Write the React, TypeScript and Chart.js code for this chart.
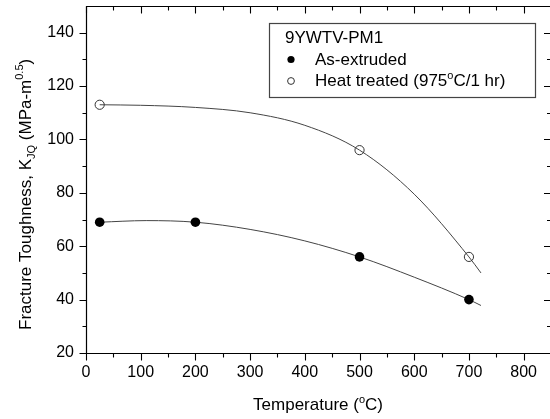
import React, { useEffect, useRef } from "react";
import { Chart, registerables } from "chart.js";
Chart.register(...registerables);

const legendTitle = "9YWTV-PM1";
const seriesNames = ["As-extruded", "Heat treated"];
const extrudedTemps = [25, 200, 500, 700];
const extrudedK = [69, 69, 56, 40];
const heatTemps = [25, 500, 700];
const heatK = [113, 96, 56];
const extrudedFitTemps = [25, 110, 200, 300, 400, 500, 600, 700, 722];
const extrudedFitK = [69, 69.6, 69, 66.3, 62, 56, 48.4, 40, 37.8];
const heatFitTemps = [25, 100, 200, 300, 400, 500, 600, 700, 722];
const heatFitK = [113, 112.8, 112.0, 110.0, 105.3, 96, 79.5, 56, 50];
const xTicks = [0, 100, 200, 300, 400, 500, 600, 700, 800];
const yTicks = [20, 40, 60, 80, 100, 120, 140];
const xRange = [0, 850];
const yRange = [20, 150];

const FONT = "'Liberation Sans', Arial, sans-serif";

type Seg = { t: string; s: number; dy: number };

function segWidth(ctx: CanvasRenderingContext2D, segs: Seg[]) {
  let w = 0;
  for (const g of segs) {
    ctx.font = `${g.s}px ${FONT}`;
    w += ctx.measureText(g.t).width;
  }
  return w;
}
function drawSegs(ctx: CanvasRenderingContext2D, segs: Seg[], x: number, y: number) {
  let cx = x;
  ctx.textAlign = "left";
  ctx.textBaseline = "alphabetic";
  for (const g of segs) {
    ctx.font = `${g.s}px ${FONT}`;
    ctx.fillText(g.t, cx, y + g.dy);
    cx += ctx.measureText(g.t).width;
  }
}

const decorPlugin = {
  id: "decor",
  afterDraw(chart: any) {
    const { ctx, chartArea: a, scales } = chart;
    const xs = scales.x;
    const ys = scales.y;
    ctx.save();
    ctx.strokeStyle = "#000";
    ctx.lineWidth = 1.2;
    const L = Math.round(a.left) + 0.5;
    const B = Math.round(a.bottom) + 0.5;
    const T = Math.round(a.top) + 0.5;
    const R = a.right;
    ctx.beginPath();
    ctx.moveTo(L, T);
    ctx.lineTo(R, T);
    ctx.lineTo(R, B);
    ctx.lineTo(L, B);
    ctx.closePath();
    ctx.stroke();
    const major = 7;
    const minor = 4;
    ctx.lineWidth = 1.1;
    ctx.beginPath();
    xTicks.forEach((v) => {
      const px = Math.round(xs.getPixelForValue(v)) + 0.5;
      ctx.moveTo(px, B); ctx.lineTo(px, B + major);
      ctx.moveTo(px, T); ctx.lineTo(px, T + major);
      const mv = v + (xTicks[1] - xTicks[0]) / 2;
      if (mv < xRange[1]) {
        const mp = Math.round(xs.getPixelForValue(mv)) + 0.5;
        ctx.moveTo(mp, B); ctx.lineTo(mp, B + minor);
        ctx.moveTo(mp, T); ctx.lineTo(mp, T + minor);
      }
    });
    yTicks.forEach((v) => {
      const py = Math.round(ys.getPixelForValue(v)) + 0.5;
      ctx.moveTo(L, py); ctx.lineTo(L - major, py);
      ctx.moveTo(R, py); ctx.lineTo(R - major, py);
      const mv = v + (yTicks[1] - yTicks[0]) / 2;
      if (mv < yRange[1]) {
        const mp = Math.round(ys.getPixelForValue(mv)) + 0.5;
        ctx.moveTo(L, mp); ctx.lineTo(L - minor, mp);
        ctx.moveTo(R, mp); ctx.lineTo(R - minor, mp);
      }
    });
    ctx.stroke();

    ctx.fillStyle = "#000";
    const xt: Seg[] = [
      { t: "Temperature (", s: 17, dy: 0 },
      { t: "o", s: 11, dy: -7 },
      { t: "C)", s: 17, dy: 0 },
    ];
    const xw = segWidth(ctx, xt);
    drawSegs(ctx, xt, 318 - xw / 2, 410);

    const yt: Seg[] = [
      { t: "Fracture Toughness, K", s: 17, dy: 0 },
      { t: "JQ", s: 11, dy: 4 },
      { t: " (MPa-m", s: 17, dy: 0 },
      { t: "0.5", s: 11, dy: -8 },
      { t: ")", s: 17, dy: 0 },
    ];
    ctx.save();
    ctx.translate(31, 330);
    ctx.rotate(-Math.PI / 2);
    drawSegs(ctx, yt, 0, 0);
    ctx.restore();

    ctx.fillStyle = "#fff";
    ctx.fillRect(269.5, 23.5, 266, 74);
    ctx.strokeStyle = "#444";
    ctx.lineWidth = 1.2;
    ctx.strokeRect(269.5, 23.5, 266, 74);
    ctx.fillStyle = "#000";
    drawSegs(ctx, [{ t: legendTitle, s: 17, dy: 0 }], 285, 43);
    ctx.beginPath();
    ctx.arc(291, 59.5, 3.6, 0, Math.PI * 2);
    ctx.fill();
    drawSegs(ctx, [{ t: seriesNames[0], s: 17, dy: 0 }], 315, 65);
    ctx.beginPath();
    ctx.strokeStyle = "#333";
    ctx.lineWidth = 1;
    ctx.arc(291, 81, 3.4, 0, Math.PI * 2);
    ctx.stroke();
    drawSegs(
      ctx,
      [
        { t: seriesNames[1] + " (975", s: 17, dy: 0 },
        { t: "o", s: 11, dy: -7 },
        { t: "C/1 hr)", s: 17, dy: 0 },
      ],
      315,
      86
    );
    ctx.restore();
  },
};

export default function App() {
  const ref = useRef<HTMLCanvasElement>(null);
  useEffect(() => {
    if (!ref.current) return;
    const chart = new Chart(ref.current, {
      type: "scatter",
      data: {
        datasets: [
          {
            label: "As-extruded",
            data: extrudedTemps.map((x, i) => ({ x, y: extrudedK[i] })),
            backgroundColor: "#000",
            borderColor: "#000",
            pointRadius: 4.8,
            pointBorderWidth: 0,
            showLine: false,
            order: 1,
          },
          {
            label: "Heat treated",
            data: heatTemps.map((x, i) => ({ x, y: heatK[i] })),
            backgroundColor: "rgba(0,0,0,0)",
            borderColor: "#333",
            pointRadius: 4.6,
            pointBorderWidth: 1,
            showLine: false,
            order: 1,
          },
          {
            label: "fit1",
            data: extrudedFitTemps.map((x, i) => ({ x, y: extrudedFitK[i] })),
            borderColor: "#444",
            borderWidth: 1,
            pointRadius: 0,
            showLine: true,
            cubicInterpolationMode: "monotone",
            order: 2,
          },
          {
            label: "fit2",
            data: heatFitTemps.map((x, i) => ({ x, y: heatFitK[i] })),
            borderColor: "#444",
            borderWidth: 1,
            pointRadius: 0,
            showLine: true,
            cubicInterpolationMode: "monotone",
            order: 2,
          },
        ],
      },
      options: {
        animation: false,
        responsive: false,
        devicePixelRatio: 1,
        layout: { autoPadding: false, padding: { left: 0, top: 6, right: 2, bottom: 0 } },
        plugins: { legend: { display: false }, tooltip: { enabled: false } },
        scales: {
          x: {
            type: "linear",
            min: xRange[0],
            max: xRange[1],
            grid: { display: false, drawTicks: false },
            border: { display: false },
            afterBuildTicks: (s: any) => {
              s.ticks = xTicks.map((v) => ({ value: v }));
            },
            afterFit: (s: any) => {
              s.height = 66;
              s.paddingLeft = 0;
              s.paddingRight = 0;
              s.paddingTop = 0;
              s.paddingBottom = 0;
            },
            ticks: {
              autoSkip: false,
              maxRotation: 0,
              padding: 10,
              color: "#000",
              font: { family: FONT, size: 16 },
            },
          },
          y: {
            type: "linear",
            min: yRange[0],
            max: yRange[1],
            grid: { display: false, drawTicks: false },
            border: { display: false },
            afterBuildTicks: (s: any) => {
              s.ticks = yTicks.map((v) => ({ value: v }));
            },
            afterFit: (s: any) => {
              s.width = 86;
              s.paddingLeft = 0;
              s.paddingRight = 0;
              s.paddingTop = 0;
              s.paddingBottom = 0;
            },
            ticks: {
              autoSkip: false,
              padding: 12,
              color: "#000",
              font: { family: FONT, size: 16 },
            },
          },
        },
      },
      plugins: [decorPlugin],
    });
    return () => chart.destroy();
  }, []);
  return (
    <div
      style={{
        position: "absolute",
        left: 0,
        top: 0,
        width: 550,
        height: 419,
        overflow: "hidden",
        background: "#fff",
      }}
    >
      <canvas ref={ref} width={553} height={419} style={{ display: "block" }} />
    </div>
  );
}
